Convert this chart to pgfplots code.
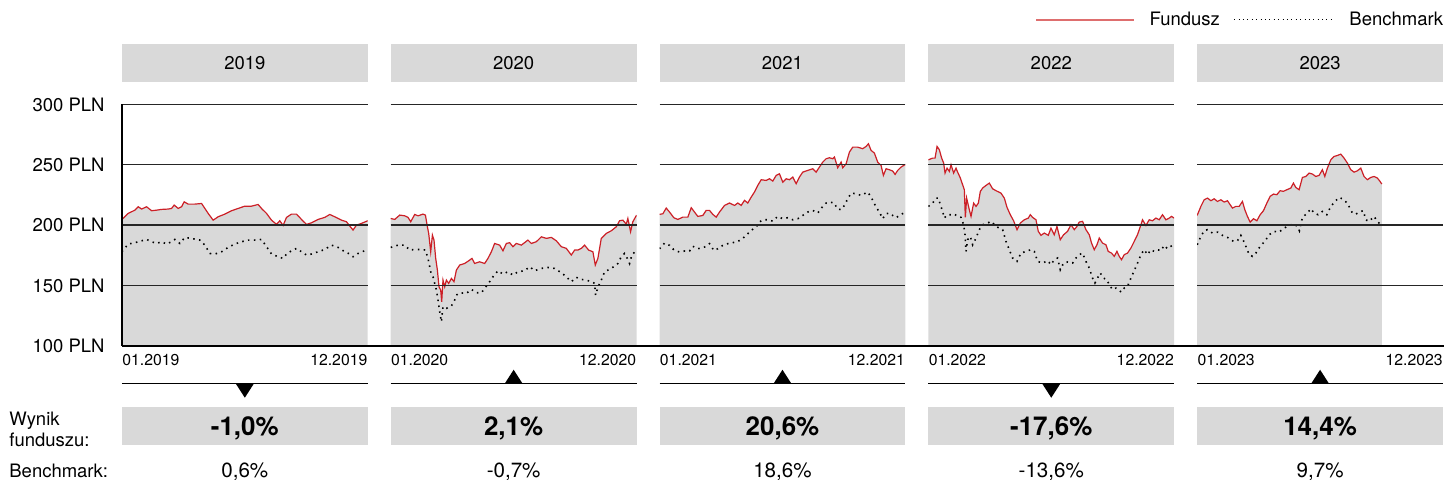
\documentclass[border=0pt]{standalone}
\usepackage{pgfplots}
\pgfplotsset{compat=1.18}
\usepackage{pgfplotstable}
\usepackage{fontspec}
\setmainfont{TeX Gyre Heros}
\definecolor{fundred}{RGB}{204,32,39}
\definecolor{legred}{RGB}{222,110,110}
\definecolor{boxgray}{RGB}{217,217,217}
\newcommand\fA{\fontsize{9.25}{11}\selectfont}
\newcommand\fV{\fontsize{10.3}{12}\selectfont}
\newcommand\fT{\fontsize{7.9}{9.5}\selectfont}
\newcommand\fB{\fontsize{13}{15}\selectfont\bfseries}

\pgfplotstableread{
x y
0 204.7
6.3 209.7
13 212.4
16.3 215.2
19.7 213.3
24.7 215.2
29.7 211.9
34.7 212.4
39.7 213.0
46.3 213.3
49.7 213.8
52.3 216.6
56.3 213.8
59.7 215.2
62.3 219.3
66.3 217.4
73 217.4
79.7 217.9
83 213.8
86.3 209.7
91.3 204.1
96.3 206.9
103 209.1
109.7 211.9
116.3 213.8
123 215.7
129.7 215.7
136.3 217.1
139.7 213.8
144.7 209.7
149.7 204.1
154.7 200.6
158 203.6
161.3 199.7
164.7 206.4
169.7 209.1
174.7 209.1
179.7 204.7
184.7 200.6
189.7 201.9
196.3 204.7
203 206.4
208 208.8
213 206.9
219.7 204.1
224.7 202.8
228 199.2
231.3 195.9
234.7 200.0
239.7 201.4
246 203.6
}\fundA
\pgfplotstableread{
x y
0 178.0
6.3 184.3
13 185.4
16.3 186.2
24.7 188.1
29.7 186.2
34.7 184.8
39.7 186.2
44.7 184.3
49.7 186.2
53 188.1
58 184.8
63 189.8
69.7 188.9
78 187.6
83 183.4
88 176.5
93 176.0
99.7 177.9
106.3 181.5
113 184.3
119.7 186.2
126.3 187.6
133 187.6
139.7 188.1
144.7 182.1
149.7 176.0
156.3 173.8
161.3 172.4
164.7 176.0
169.7 178.7
174.7 180.7
179.7 177.9
184.7 175.2
189.7 176.0
196.3 177.9
203 179.8
209.7 183.4
216.3 181.5
223 177.9
228 176.0
231.3 173.8
236.3 176.5
246 179.8
}\benchA
\pgfplotstableread{
x y
0 205.5
4 204.7
9 208.3
14 207.7
17.3 206.4
20 202.8
24 208.8
27.3 207.7
32.3 209.1
34.7 208.3
36.7 198.6
38 193.1
40 177.9
41.7 191.7
43.3 187.6
45 172.4
46.7 162.7
48.3 148.9
50 146.2
51 136.5
52.3 154.4
54 148.9
55.7 154.4
58 151.7
60.7 155.8
63.3 153.1
65.7 162.7
69 166.9
74 168.2
79 171.0
81.3 172.4
84 168.2
89 169.6
94 168.2
97.3 172.4
100.7 177.9
104 184.8
109 183.4
112.3 178.7
115.7 184.8
119 185.4
122.3 182.1
125.7 184.8
130.7 183.4
137.3 187.6
140.7 184.8
145.7 186.2
150.7 190.3
155.7 189.0
160.7 189.8
165.7 187.0
170.7 182.1
175.7 180.7
180.7 175.2
184 179.3
187.3 179.3
190.7 180.7
194 183.4
198 179.3
202.3 177.9
204.7 166.9
207.3 172.4
210.7 189.0
215.7 193.1
220.7 195.3
225.7 198.6
229 203.6
232.3 204.1
235.7 200.8
237.3 205.5
240 194.5
242.3 202.8
246 208.3
}\fundB
\pgfplotstableread{
x y
0 181.5
7.3 183.4
14 183.4
19 179.3
24 179.8
30.7 179.8
34.7 179.3
37.3 172.4
40 161.3
42.3 157.2
44 151.7
45.7 146.2
47.3 137.9
49 128.2
50.7 119.9
52.3 132.4
55.7 131.0
60.7 132.9
64 137.9
65.7 142.0
69 143.9
75.7 143.4
80.7 146.7
85.7 143.9
90.7 143.9
94 147.5
99 153.1
102.3 157.2
107.3 162.2
112.3 159.4
117.3 161.3
122.3 158.6
127.3 161.3
134 162.2
139 165.5
144 162.2
150.7 164.1
157.3 164.9
164 164.1
170.7 160.5
175.7 157.2
180.7 153.1
185.7 156.7
190.7 155.0
195.7 154.4
200.7 153.1
204 151.7
205 142.0
207.3 148.4
210.7 154.4
214 161.3
220.7 164.1
227.3 168.2
230.7 173.8
234 176.5
236.7 172.4
239 168.2
241.3 175.2
246 179.3
}\benchB
\pgfplotstableread{
x y
0 208.9
3.3 209.4
6.7 214.1
10 210.8
14.3 206.1
18.3 204.7
23.3 206.6
28.3 206.6
31.7 214.4
35 210.8
38.3 207.2
43.3 208.0
46.7 212.2
50 212.2
53.3 208.9
56.7 206.6
60 210.8
65 216.3
70 218.3
75 216.3
78.3 218.3
81.7 216.3
85 220.5
88.3 218.3
91.7 223.2
95 227.4
98.3 232.9
101.7 237.6
106.7 237.0
110 238.4
113.3 236.5
116.7 241.2
120 242.5
123.3 235.6
126.7 238.4
130 237.6
133.3 239.8
136.7 234.3
140 239.8
143.3 243.9
148.3 245.3
153.3 246.7
156.7 243.9
160 248.1
163.3 252.2
166.7 255.0
170 255.8
173.3 255.0
175 256.4
178.3 247.5
181.7 252.2
183.3 247.5
186.7 250.8
190 260.5
193.3 264.6
198.3 264.6
203.3 263.3
206.7 265.2
209 267.4
211.7 261.9
215 259.7
218.3 252.2
221.7 249.4
224 241.2
226.7 246.7
230 245.9
233.3 244.8
235.7 242.0
238.3 245.3
241.7 248.1
246 250.3
}\fundC
\pgfplotstableread{
x y
0 180.4
5 185.1
10 183.2
15 179.0
20 177.7
25 178.5
30 178.5
33.3 182.4
38.3 180.4
45 181.8
50 184.6
54.3 179.0
58.3 180.4
63.3 183.2
70 185.1
76.7 185.9
81.7 187.9
86.7 191.5
91.7 195.6
96.7 198.4
100 202.5
103.3 204.4
108.3 204.4
113.3 203.3
118.3 207.2
123.3 205.3
128.3 206.1
133.3 204.4
138.3 205.3
143.3 208.0
148.3 210.8
153.3 212.2
158.3 210.0
163.3 215.5
166.7 218.3
170 219.1
175 218.3
177.7 213.6
181.7 212.7
185 216.3
188.3 221.8
191.7 226.5
196.7 226.0
201.7 224.6
208.3 227.4
211.7 223.2
216.7 214.9
220 210.8
223.3 205.3
226.7 209.4
230 210.0
233.3 208.0
236.7 206.1
240 208.0
246 210.8
}\benchC
\pgfplotstableread{
x y
0 254.1
4.3 255.5
6.7 255.5
8.7 265.2
11 262.4
13.3 255.5
15.3 251.4
16.7 243.1
18.7 247.2
21 244.5
22.7 250.0
25.3 243.1
27.7 247.2
29.3 243.9
32 239.0
34.3 233.4
36 229.3
37 206.4
38.3 222.4
41 212.7
42.7 207.2
45.3 218.2
47.7 215.5
50 218.2
52 227.9
54.3 230.7
57.7 232.9
61 234.8
64.3 230.1
67.7 228.5
72.7 226.5
76 222.4
78.7 214.7
82 208.6
85.3 203.6
88.7 196.2
92 201.7
96 204.4
100 205.8
102 208.6
104.3 206.4
107.7 204.4
110 194.8
112.7 191.5
116 193.4
120 191.5
122.7 197.5
126 192.0
128.7 198.9
132 187.9
135.3 192.0
139.3 194.8
142.7 200.3
146 196.2
148.7 198.9
151 202.5
154.3 203.1
157.7 196.2
161 192.0
163.3 185.1
166 179.6
168.7 183.7
171 189.3
174.3 185.1
177.7 183.7
180 178.2
183.3 176.8
186 174.1
188.7 178.2
191 174.1
193.3 171.3
196 175.5
199.3 176.8
202.7 181.0
206 186.5
209.3 192.0
212.7 200.3
214.3 204.4
217.7 199.7
221 204.4
224.3 203.6
227.7 205.8
231 204.4
234.3 208.6
237.7 204.4
241 205.8
243.3 207.2
246 205.8
}\fundD
\pgfplotstableread{
x y
0 215.5
4.3 218.2
7.7 222.4
10 222.4
12 216.9
14.3 211.3
16 205.8
18.7 208.6
22.7 208.6
26 209.1
29.3 207.2
32.7 206.4
35.3 200.3
36.7 192.0
37.7 178.2
39.3 187.9
42 190.6
44.3 183.7
47.7 189.3
51 196.2
54.3 200.3
59.3 201.7
62.7 203.1
67.7 198.9
71 197.5
74.3 196.2
77.7 186.5
81 179.6
84.3 172.7
88.7 169.9
92.7 176.8
97.7 178.2
102.7 179.6
106 178.2
109.3 169.9
114.3 168.5
119.3 170.5
122.7 167.2
126 171.3
129.3 172.7
132 163.0
135.3 168.5
139.3 169.4
144.3 168.5
147.7 172.7
151 175.5
154.3 176.8
157.7 169.9
161 164.4
164.3 156.1
166.7 152.0
169.3 156.1
172 160.3
175.3 156.1
178.7 154.7
181 150.6
184.3 146.5
187.7 147.8
191 145.6
193.3 144.5
196 147.8
199.3 149.2
202.7 156.1
206 162.2
209.3 168.5
212.7 175.5
216 179.6
219.3 175.5
222.7 179.6
226 178.2
229.3 179.6
232.7 178.8
236 183.2
239.3 180.4
242.7 182.4
246 184.3
}\benchD
\pgfplotstableread{
x y
0 208.0
3.7 215.5
7 221.0
10.3 222.4
13.7 220.2
17 221.8
20.3 219.6
23.7 221.0
27 219.1
30.3 220.2
33 216.9
35.3 214.1
38.7 215.5
42 215.5
45.3 219.6
47.7 212.7
50.3 207.2
53 202.5
56.3 205.3
59.7 203.6
63 208.6
66.3 211.9
69.7 218.2
73 223.8
76.3 225.7
79.7 225.2
83 228.5
86.3 228.0
89.7 229.3
93.7 230.7
96.3 234.8
98.7 231.2
102 229.3
105.3 239.5
108.7 240.3
112 243.1
115.3 242.3
118.7 240.3
122 241.2
125.3 245.9
127.7 240.3
130.3 247.2
133.7 254.1
137 256.9
140.3 257.7
143.7 258.8
147 255.5
150.3 251.4
153.7 245.9
157 243.9
160.3 245.0
163.7 247.2
167 240.3
170.3 237.6
173.7 239.5
177 240.3
180.3 239.0
183 236.2
184.7 234.0
}\fundE
\pgfplotstableread{
x y
0 183.7
3.7 190.6
7 195.3
10.3 196.2
15.3 193.4
20.3 194.2
25.3 191.5
30.3 189.8
36.3 186.5
40.3 187.0
43.7 191.5
47 185.9
49.7 180.4
52 175.5
55.3 174.1
58.7 176.8
63 182.4
67.7 186.5
72 192.0
77 194.8
82 194.2
87 197.5
92 199.7
96.3 200.9
100.3 199.0
102.3 195.3
105.3 206.4
110.3 210.0
113.7 213.6
117 210.0
121 208.6
125.3 211.3
129.7 208.6
133.7 215.5
138.7 220.2
142 222.9
145.3 221.8
150.3 218.2
155.3 210.0
158.7 209.1
163.7 211.3
166.3 211.9
168.7 204.4
172 203.1
177 207.2
180.3 203.1
183 200.9
184.7 201.7
}\benchE

\pgfplotsset{
  panel/.style={
    scale only axis, width=123pt, height=120.75pt,
    xmin=0, xmax=246, ymin=100, ymax=300,
    anchor=south west,
    axis line style={draw=none}, tick style={draw=none},
    xtick=\empty, ytick={150,200,250,300}, yticklabels={},
    ymajorgrids, major grid style={black!85, line width=0.65pt},
    axis on top,
  },
  fundfill/.style={fill=boxgray, draw=none},
  fundline/.style={draw=fundred, line width=0.6pt},
  benchline/.style={draw=black, line width=0.8pt, dash pattern=on 0.75pt off 2.2pt},
}

\begin{document}
\begin{tikzpicture}
\begin{scope}[x=0.5pt,y=-0.5pt]
\path[use as bounding box] (0,0) rectangle (1445,482);
% legend
\fill[legred] (1037,19) rectangle (1135,20.6);
\node[anchor=base west, font=\fA, inner sep=0pt] at (1150,26) {Fundusz};
\draw[draw=black, line width=0.5pt, dash pattern=on 0.5pt off 1.7pt] (1235,19.5) -- (1332,19.5);
\node[anchor=base west, font=\fA, inner sep=0pt] at (1350,26) {Benchmark};
% headers, ticks, summary boxes
\foreach \xo/\yr in {122/2019,391/2020,660/2021,929/2022,1198/2023}{
  \fill[boxgray] (\xo,44) rectangle ++(246,38);
  \node[anchor=base, font=\fA, inner sep=0pt] at (\xo+123,69.7) {\yr};
  \node[anchor=base west, font=\fT, inner sep=0pt] at (\xo,366) {01.\yr};
  \node[anchor=base east, font=\fT, inner sep=0pt] at (\xo+246,366) {12.\yr};
  \draw[black, line width=0.75pt] (\xo,384) -- ++(246,0);
  \fill[boxgray] (\xo,407) rectangle ++(246,38);
}
% triangles
\fill[black] (236,384) -- (254,384) -- (245,398) -- cycle;
\fill[black] (505,384) -- (523,384) -- (514,370) -- cycle;
\fill[black] (774,384) -- (792,384) -- (783,370) -- cycle;
\fill[black] (1043,384) -- (1061,384) -- (1052,398) -- cycle;
\fill[black] (1312,384) -- (1330,384) -- (1321,370) -- cycle;
% results
\node[anchor=base, font=\fB, inner sep=0pt] at (245,435.5) {-1,0\%};
\node[anchor=base, font=\fB, inner sep=0pt] at (514,435.5) {2,1\%};
\node[anchor=base, font=\fB, inner sep=0pt] at (783,435.5) {20,6\%};
\node[anchor=base, font=\fB, inner sep=0pt] at (1052,435.5) {-17,6\%};
\node[anchor=base, font=\fB, inner sep=0pt] at (1321,435.5) {14,4\%};
\node[anchor=base, font=\fV, inner sep=0pt] at (245,477.5) {0,6\%};
\node[anchor=base, font=\fV, inner sep=0pt] at (514,477.5) {-0,7\%};
\node[anchor=base, font=\fV, inner sep=0pt] at (783,477.5) {18,6\%};
\node[anchor=base, font=\fV, inner sep=0pt] at (1052,477.5) {-13,6\%};
\node[anchor=base, font=\fV, inner sep=0pt] at (1321,477.5) {9,7\%};
\node[anchor=base west, font=\fA, inner sep=0pt] at (9,426) {Wynik};
\node[anchor=base west, font=\fA, inner sep=0pt] at (9,447) {funduszu:};
\node[anchor=base west, font=\fA, inner sep=0pt] at (9,477.5) {Benchmark:};
\end{scope}

\begin{axis}[panel, at={(61pt,-173pt)},
  ytick={100,150,200,250,300},
  yticklabels={100 PLN,150 PLN,200 PLN,250 PLN,300 PLN},
  yticklabel style={font=\fA, anchor=east, inner sep=0pt, xshift=-8.5pt}]
\addplot[fundfill] table {\fundA} \closedcycle;
\addplot[fundline] table {\fundA};
\addplot[benchline] table {\benchA};
\end{axis}
\begin{axis}[panel, at={(195.5pt,-173pt)}]
\addplot[fundfill] table {\fundB} \closedcycle;
\addplot[fundline] table {\fundB};
\addplot[benchline] table {\benchB};
\end{axis}
\begin{axis}[panel, at={(330pt,-173pt)}]
\addplot[fundfill] table {\fundC} \closedcycle;
\addplot[fundline] table {\fundC};
\addplot[benchline] table {\benchC};
\end{axis}
\begin{axis}[panel, at={(464.5pt,-173pt)}]
\addplot[fundfill] table {\fundD} \closedcycle;
\addplot[fundline] table {\fundD};
\addplot[benchline] table {\benchD};
\end{axis}
\begin{axis}[panel, at={(599pt,-173pt)}]
\addplot[fundfill] table {\fundE} \closedcycle;
\addplot[fundline] table {\fundE};
\addplot[benchline] table {\benchE};
\end{axis}

\begin{scope}[x=0.5pt,y=-0.5pt]
\draw[black, line width=0.75pt] (122,104.5) -- (122,346);
\draw[black, line width=1pt] (121.6,346) -- (1445,346);
\end{scope}
\end{tikzpicture}
\end{document}
